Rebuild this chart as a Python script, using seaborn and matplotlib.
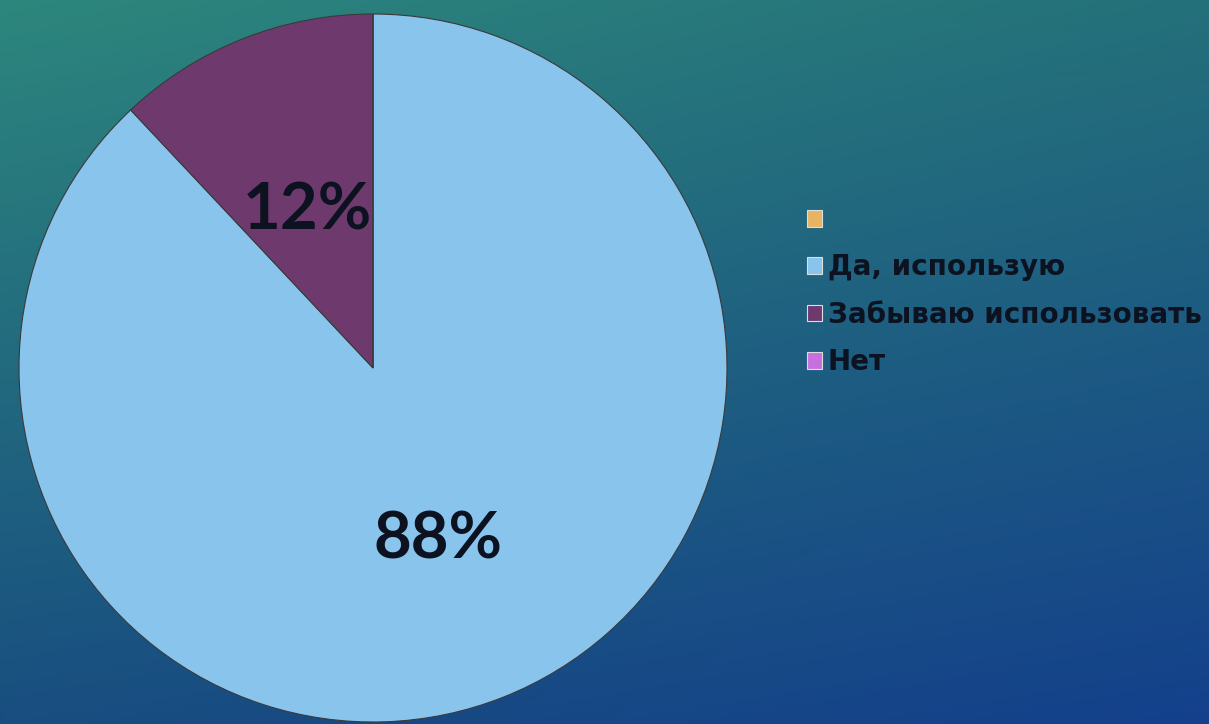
import numpy as np
import matplotlib
matplotlib.use("Agg")
import matplotlib.pyplot as plt
import seaborn as sns

# Данные диаграммы
labels = ["", "Да, использую", "Забываю использовать", "Нет"]
values = [0, 88, 12, 0]
colors = ["#E8B464", "#88C4EC", "#6E3A6E", "#C86FE0"]

sns.set_theme(style="white")
plt.rcParams["font.family"] = ["DejaVu Sans"]

fig = plt.figure(figsize=(12.09, 7.24), dpi=100)

# --- Фон: градиент бирюзовый -> синий ---
bg = fig.add_axes([0, 0, 1, 1], zorder=0)
ny, nx = 200, 300
yy, xx = np.mgrid[0:1:ny * 1j, 0:1:nx * 1j]
tl = np.array([45, 135, 125]) / 255
tr = np.array([36, 112, 122]) / 255
bl = np.array([24, 78, 128]) / 255
br = np.array([20, 64, 140]) / 255
top = tl[None, None, :] * (1 - xx[..., None]) + tr[None, None, :] * xx[..., None]
bot = bl[None, None, :] * (1 - xx[..., None]) + br[None, None, :] * xx[..., None]
grad = top * (1 - yy[..., None]) + bot * yy[..., None]
bg.imshow(grad, aspect="auto", extent=[0, 1, 0, 1], origin="upper")
bg.set_axis_off()

# --- Круговая диаграмма ---
ax = fig.add_axes([18 / 1209, 2 / 724, 710 / 1209, 708 / 724], zorder=1)
ax.patch.set_alpha(0)


def fmt(p):
    return f"{p:.0f}%" if p > 0.5 else ""


wedges, texts, autotexts = ax.pie(
    values,
    colors=colors,
    startangle=90,
    counterclock=False,
    autopct=fmt,
    pctdistance=0.5,
    wedgeprops=dict(edgecolor="#3a3a3a", linewidth=0.8),
    textprops=dict(fontsize=47, color="#0c1220", weight="bold",
                   family=["Lato", "DejaVu Sans"]),
)
for t in autotexts:
    x, y = t.get_position()
    t.set_position((x, y - 0.02))
ax.set_xlim(-1.0, 1.0)
ax.set_ylim(-1.0, 1.0)
ax.set_aspect("equal")
ax.set_axis_off()

# Легенда
leg = fig.legend(
    wedges,
    labels,
    loc="upper left",
    bbox_to_anchor=(807 / 1209, 1 - 206 / 724),
    frameon=False,
    prop=dict(size=20, weight="bold"),
    handlelength=0.55,
    handleheight=0.55,
    handletextpad=0.2,
    labelspacing=0.7,
    borderpad=0,
    borderaxespad=0,
)
for t in leg.get_texts():
    t.set_color("#0c1220")
for h in leg.legend_handles:
    h.set_edgecolor("#dddddd")
    h.set_linewidth(0.8)

fig.savefig("out.png", dpi=100)
